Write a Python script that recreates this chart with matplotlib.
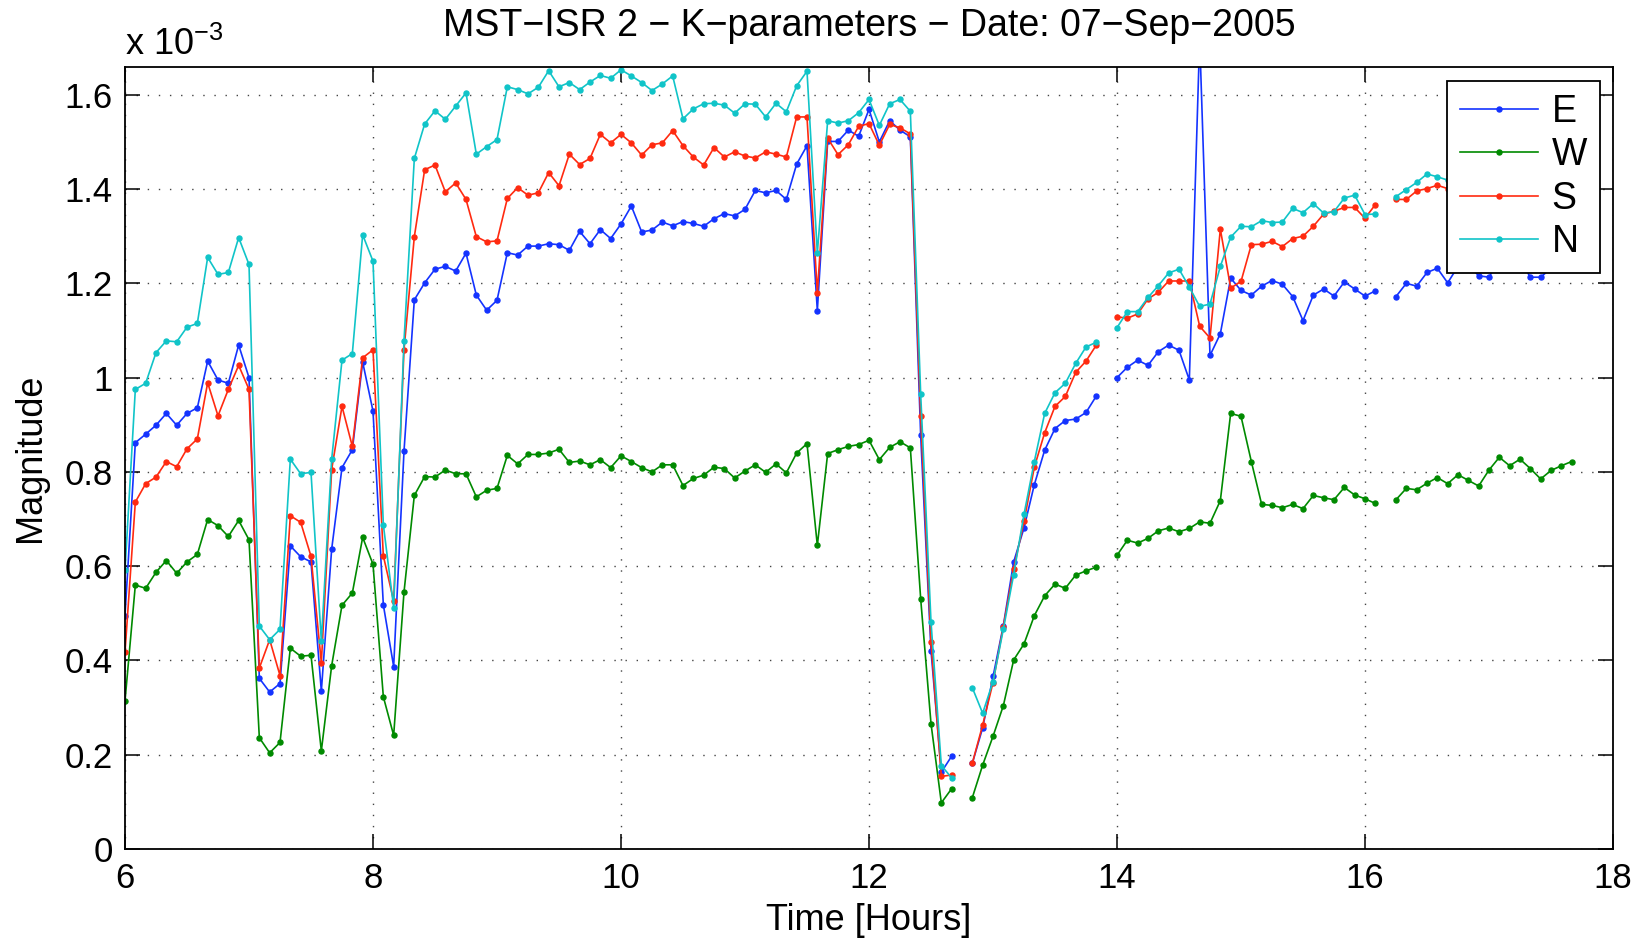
import numpy as np
import matplotlib
matplotlib.use('Agg')
import matplotlib.pyplot as plt
from matplotlib.ticker import FuncFormatter

plt.rcParams['font.family'] = ['Liberation Sans', 'DejaVu Sans']
plt.rcParams['mathtext.fontset'] = 'custom'
plt.rcParams['mathtext.rm'] = 'Liberation Sans'

# 5-minute samples starting at 06:00 (NaN = missing sample)
start_hour = 6.0
step_minutes = 5
nan = np.nan

mag_E = [0.495, 0.862, 0.880, 0.899, 0.924, 0.899, 0.924, 0.936, 1.035, 0.995, 0.988, 1.069, 1.000,
         0.362, 0.333, 0.351, 0.643, 0.620, 0.609, 0.335, 0.636, 0.809, 0.847, 1.033, 0.929,
         0.518, 0.387, 0.844, 1.165, 1.201, 1.230, 1.236, 1.226, 1.264, 1.175, 1.143, 1.164,
         1.265, 1.260, 1.279, 1.279, 1.284, 1.282, 1.270, 1.310, 1.284, 1.314, 1.295, 1.326,
         1.364, 1.309, 1.313, 1.330, 1.322, 1.331, 1.327, 1.321, 1.337, 1.348, 1.343, 1.357,
         1.397, 1.392, 1.397, 1.378, 1.453, 1.492, 1.142, 1.501, 1.501, 1.525, 1.512, 1.569,
         1.500, 1.545, 1.525, 1.511, 0.878, 0.421, 0.163, 0.197, nan, 0.182, 0.257, 0.366,
         0.474, 0.609, 0.681, 0.773, 0.846, 0.892, 0.909, 0.912, 0.926, 0.961, nan, 1.000,
         1.022, 1.037, 1.026, 1.055, 1.069, 1.058, 0.995, 1.720, 1.047, 1.093, 1.211, 1.185,
         1.175, 1.194, 1.206, 1.198, 1.172, 1.121, 1.175, 1.188, 1.173, 1.203, 1.188, 1.173,
         1.184, nan, 1.172, 1.200, 1.194, 1.223, 1.232, 1.201, 1.236, 1.240, 1.216, 1.213,
         1.250, 1.260, 1.250, 1.213, 1.213, 1.232, 1.240, 1.250]

mag_W = [0.314, 0.560, 0.553, 0.587, 0.612, 0.585, 0.609, 0.625, 0.699, 0.686, 0.663, 0.697, 0.656,
         0.236, 0.204, 0.226, 0.426, 0.409, 0.411, 0.208, 0.389, 0.517, 0.543, 0.661, 0.604,
         0.323, 0.241, 0.545, 0.750, 0.790, 0.789, 0.804, 0.796, 0.796, 0.747, 0.761, 0.765,
         0.835, 0.817, 0.837, 0.837, 0.840, 0.848, 0.820, 0.823, 0.815, 0.826, 0.809, 0.834,
         0.822, 0.809, 0.800, 0.815, 0.815, 0.771, 0.786, 0.793, 0.810, 0.807, 0.787, 0.802,
         0.815, 0.799, 0.817, 0.798, 0.840, 0.860, 0.644, 0.839, 0.847, 0.854, 0.858, 0.867,
         0.826, 0.852, 0.864, 0.851, 0.531, 0.266, 0.098, 0.128, nan, 0.109, 0.178, 0.239,
         0.304, 0.401, 0.435, 0.495, 0.537, 0.562, 0.553, 0.581, 0.590, 0.598, nan, 0.623,
         0.655, 0.649, 0.659, 0.675, 0.681, 0.673, 0.680, 0.694, 0.691, 0.739, 0.924, 0.918,
         0.822, 0.731, 0.729, 0.724, 0.731, 0.722, 0.750, 0.745, 0.741, 0.767, 0.751, 0.743,
         0.733, nan, 0.741, 0.765, 0.762, 0.776, 0.788, 0.775, 0.794, 0.782, 0.770, 0.804,
         0.831, 0.813, 0.827, 0.807, 0.785, 0.803, 0.813, 0.822]

mag_S = [0.417, 0.736, 0.775, 0.789, 0.822, 0.811, 0.849, 0.870, 0.989, 0.919, 0.975, 1.026, 0.975,
         0.384, 0.444, 0.368, 0.707, 0.693, 0.621, 0.395, 0.805, 0.939, 0.854, 1.042, 1.059,
         0.622, 0.526, 1.059, 1.299, 1.441, 1.451, 1.394, 1.413, 1.378, 1.299, 1.288, 1.290,
         1.380, 1.403, 1.387, 1.392, 1.435, 1.407, 1.474, 1.452, 1.465, 1.516, 1.498, 1.516,
         1.498, 1.472, 1.494, 1.498, 1.524, 1.492, 1.468, 1.451, 1.488, 1.468, 1.479, 1.470,
         1.466, 1.479, 1.474, 1.468, 1.553, 1.553, 1.180, 1.508, 1.473, 1.494, 1.533, 1.539,
         1.493, 1.537, 1.530, 1.517, 0.919, 0.439, 0.154, 0.157, nan, 0.182, 0.263, 0.353,
         0.472, 0.594, 0.695, 0.810, 0.883, 0.939, 0.960, 1.011, 1.035, 1.069, nan, 1.129,
         1.126, 1.135, 1.167, 1.181, 1.205, 1.205, 1.205, 1.109, 1.084, 1.315, 1.190, 1.204,
         1.282, 1.283, 1.289, 1.278, 1.295, 1.300, 1.321, 1.347, 1.353, 1.361, 1.361, 1.338,
         1.367, nan, 1.378, 1.378, 1.396, 1.401, 1.408, 1.401, 1.400, 1.410, 1.400, 1.420,
         1.410, 1.430, 1.420, 1.410, 1.430, 1.420, 1.430, 1.440]

mag_N = [0.591, 0.975, 0.988, 1.053, 1.078, 1.076, 1.107, 1.115, 1.255, 1.219, 1.223, 1.297, 1.240,
         0.473, 0.444, 0.466, 0.827, 0.796, 0.799, 0.441, 0.827, 1.037, 1.051, 1.303, 1.247,
         0.688, 0.512, 1.078, 1.465, 1.538, 1.566, 1.548, 1.576, 1.604, 1.474, 1.490, 1.505,
         1.617, 1.611, 1.602, 1.616, 1.651, 1.617, 1.626, 1.611, 1.627, 1.641, 1.635, 1.653,
         1.640, 1.626, 1.609, 1.623, 1.640, 1.549, 1.570, 1.581, 1.582, 1.578, 1.561, 1.581,
         1.580, 1.553, 1.582, 1.564, 1.619, 1.650, 1.264, 1.545, 1.540, 1.545, 1.562, 1.590,
         1.535, 1.581, 1.590, 1.565, 0.966, 0.482, 0.177, 0.151, nan, 0.342, 0.288, 0.355,
         0.466, 0.582, 0.710, 0.822, 0.924, 0.968, 0.988, 1.030, 1.065, 1.075, nan, 1.106,
         1.140, 1.140, 1.170, 1.195, 1.222, 1.230, 1.192, 1.151, 1.156, 1.236, 1.298, 1.321,
         1.320, 1.333, 1.329, 1.330, 1.359, 1.350, 1.369, 1.349, 1.352, 1.381, 1.387, 1.346,
         1.347, nan, 1.384, 1.399, 1.414, 1.432, 1.426, 1.419, 1.430, 1.440, 1.430, 1.450,
         1.440, 1.450, 1.440, 1.430, 1.450, 1.440, 1.450, 1.460]

series_names = ['E', 'W', 'S', 'N']
series_data = [mag_E, mag_W, mag_S, mag_N]
colors = ['#1433ff', '#008a00', '#ff2a10', '#10c4c8']

hours = start_hour + np.arange(len(mag_E)) * step_minutes / 60.0

fig = plt.figure(figsize=(16.38, 9.40), dpi=100)
ax = fig.add_axes([125 / 1638, 1 - 849 / 940, 1488 / 1638, 782.5 / 940])

for name, data, c in zip(series_names, series_data, colors):
    ax.plot(hours, np.array(data) * 1e-3, '-', marker='o', markersize=3.6, linewidth=1.2,
            color=c, label=name)

ax.set_xlim(6, 18)
ax.set_ylim(0, 1.66e-3)
ax.set_xticks([6, 8, 10, 12, 14, 16, 18])
ax.set_yticks(np.arange(0, 1.7e-3, 0.2e-3))
ax.yaxis.set_major_formatter(FuncFormatter(lambda v, p: '%g' % round(v * 1e3, 3)))

ax.grid(True, linestyle=(0, (1, 7)), color='#444444', linewidth=1.0)
ax.tick_params(direction='in', length=11, width=1.1, top=True, right=True,
               labelsize=25, pad=9)
for sp in ax.spines.values():
    sp.set_linewidth(1.3)

ax.set_xlabel('Time [Hours]', fontsize=26, labelpad=6)
ax.set_ylabel('Magnitude', fontsize=26, labelpad=12)
ax.set_title('MST\u2212ISR 2 \u2212 K\u2212parameters \u2212 Date: 07\u2212Sep\u22122005',
             fontsize=27, pad=22)
ax.text(0, 1.004, r'x $\mathregular{10^{-3}}$', transform=ax.transAxes, fontsize=26,
        ha='left', va='bottom')

leg = ax.legend(loc='upper right', bbox_to_anchor=(0.9913, 0.982), borderaxespad=0,
                fontsize=27, handlelength=2.1, handletextpad=0.35, labelspacing=0.2,
                borderpad=0.35, fancybox=False, framealpha=1, edgecolor='black')
leg.get_frame().set_linewidth(1.3)

plt.savefig('out.png', dpi=100)
